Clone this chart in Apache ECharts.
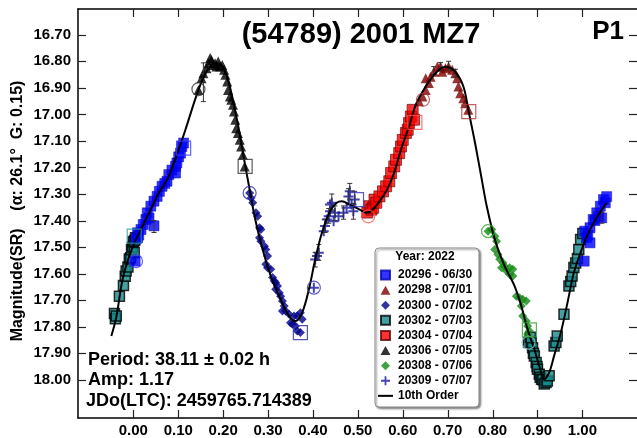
<!DOCTYPE html>
<html>
<head>
<meta charset="utf-8">
<script src="https://cdn.jsdelivr.net/npm/echarts@6/dist/echarts.min.js"></script>
<style>
html, body { margin: 0; padding: 0; background: #fff; }
#chart { width: 637px; height: 438px; }
</style>
</head>
<body>
<div id="chart"></div>
<script>
// Lightcurve of (54789) 2001 MZ7, phased to P = 38.11 h. Points are [phase, magnitude].
const xTicks = [0.0, 0.1, 0.2, 0.3, 0.4, 0.5, 0.6, 0.7, 0.8, 0.9, 1.0];
const yTicks = [16.7, 16.8, 16.9, 17.0, 17.1, 17.2, 17.3, 17.4, 17.5, 17.6, 17.7, 17.8, 17.9, 18.0];

const s20296 = [
  [0.004,17.553],[0.006,17.47],[0.0095,17.446],[0.0095,17.465],[0.012,17.455],[0.017,17.434],
  [0.022,17.415],[0.028,17.396],[0.031,17.371],[0.035,17.39],[0.039,17.346],[0.046,17.327],
  [0.046,17.42],[0.053,17.309],[0.058,17.29],[0.064,17.271],[0.070,17.26],[0.075,17.252],
  [0.079,17.227],[0.086,17.21],[0.094,17.196],[0.094,17.221],[0.097,17.183],[0.101,17.16],
  [0.105,17.146],[0.108,17.121],[0.112,17.108],
  [1.004,17.553],[1.005,17.44],[1.009,17.465],[1.012,17.455],[1.017,17.427],[1.017,17.484],
  [1.024,17.396],[1.028,17.40],[1.032,17.371],[1.036,17.385],[1.040,17.346],[1.043,17.39],
  [1.047,17.321],[1.051,17.333],[1.054,17.31]
];
const s20298 = [
  [0.636,16.951],[0.644,16.933],[0.651,16.908],[0.651,16.864],[0.658,16.882],[0.662,16.858],
  [0.669,16.839],[0.677,16.82],[0.684,16.82],[0.688,16.839],[0.695,16.826],[0.702,16.82],
  [0.710,16.832],[0.717,16.845],[0.721,16.864],[0.724,16.895],[0.728,16.92],[0.735,16.939],
  [0.739,16.958],[0.746,16.983]
];
const s20300 = [
  [0.259,17.296],[0.262,17.315],[0.266,17.333],[0.273,17.371],[0.277,17.384],[0.281,17.427],
  [0.284,17.434],[0.281,17.465],[0.284,17.478],[0.292,17.497],[0.295,17.509],[0.299,17.534],
  [0.295,17.565],[0.299,17.578],[0.306,17.584],[0.310,17.615],[0.314,17.628],[0.317,17.634],
  [0.321,17.647],[0.317,17.659],[0.325,17.672],[0.328,17.685],[0.332,17.703],[0.336,17.722],
  [0.332,17.741],[0.339,17.741],[0.347,17.753],[0.350,17.785],[0.354,17.791],[0.361,17.797],
  [0.365,17.816],[0.372,17.822],[0.358,17.76],[0.365,17.76],[0.372,17.747],[0.376,17.772]
];
const s20302 = [
  [-0.042,17.75],[-0.040,17.77],[-0.038,17.76],[-0.031,17.685],[-0.022,17.645],[-0.018,17.61],
  [-0.016,17.59],[-0.012,17.575],[-0.009,17.545],[-0.006,17.54],[-0.004,17.51],[-0.002,17.50],
  [0.000,17.48],[0.003,17.475],[0.005,17.465],[0.002,17.52],
  [0.880,17.86],[0.884,17.84],[0.886,17.86],[0.889,17.879],[0.891,17.90],[0.893,17.91],
  [0.897,17.935],[0.899,17.95],[0.900,17.96],[0.904,17.979],[0.906,17.99],[0.909,17.998],
  [0.912,18.0],[0.915,18.016],[0.919,18.01],[0.922,18.005],[0.926,17.985],[0.937,17.873],
  [0.941,17.86],[0.944,17.835],[0.959,17.753],[0.970,17.647],[0.974,17.63],[0.977,17.609],
  [0.981,17.577],[0.985,17.56],[0.989,17.543],[0.992,17.509],[0.996,17.471],[1.001,17.449]
];
const s20304 = [
  [0.521,17.37],[0.526,17.346],[0.530,17.359],[0.534,17.352],[0.537,17.321],[0.541,17.333],
  [0.548,17.309],[0.556,17.29],[0.563,17.271],[0.570,17.252],[0.574,17.221],[0.581,17.196],
  [0.585,17.171],[0.592,17.146],[0.596,17.121],[0.600,17.096],[0.607,17.07],[0.611,17.058],
  [0.614,17.033],[0.618,17.008],[0.622,16.983],[0.625,17.02]
];
const s20306 = [
  [0.145,16.908],[0.152,16.864],[0.156,16.845],[0.163,16.826],[0.167,16.807],[0.171,16.788],
  [0.174,16.795],[0.178,16.814],[0.182,16.807],[0.185,16.82],[0.189,16.801],[0.193,16.82],
  [0.198,16.814],[0.202,16.832],[0.205,16.851],[0.209,16.876],[0.211,16.908],[0.215,16.933],
  [0.218,16.945],[0.222,16.964],[0.224,16.989],[0.227,17.02],[0.229,17.052],[0.233,17.07],
  [0.237,17.096],[0.240,17.121],[0.244,17.152],[0.248,17.196]
];
const s20308 = [
  [0.790,17.44],[0.798,17.434],[0.805,17.459],[0.809,17.478],[0.805,17.509],[0.812,17.528],
  [0.816,17.546],[0.823,17.559],[0.827,17.572],[0.820,17.578],[0.831,17.59],[0.838,17.578],
  [0.845,17.584],[0.838,17.603],[0.845,17.609],[0.853,17.685],[0.860,17.691],[0.867,17.697],
  [0.875,17.703],[0.864,17.722],[0.867,17.76],[0.875,17.779],[0.878,17.797],[0.882,17.816],
  [0.878,17.829]
];
const s20309 = [
  [0.402,17.653],[0.405,17.547],[0.409,17.534],[0.413,17.521],[0.424,17.44],[0.427,17.421],
  [0.431,17.396],[0.435,17.384],[0.438,17.365],[0.442,17.333],[0.438,17.34],[0.449,17.371],
  [0.457,17.384],[0.446,17.403],[0.479,17.309],[0.482,17.29],[0.486,17.34],[0.490,17.365],
  [0.493,17.321],[0.475,17.352],[0.468,17.371]
];

// 10th order Fourier fit
const fit10 = [
  [-0.049,17.835],[-0.038,17.765],[-0.024,17.622],[-0.009,17.534],[0.006,17.471],[0.028,17.396],
  [0.057,17.295],[0.077,17.240],[0.101,17.133],[0.116,17.058],[0.145,16.908],[0.163,16.839],
  [0.182,16.806],[0.196,16.814],[0.211,16.870],[0.233,17.039],[0.248,17.182],[0.259,17.283],
  [0.270,17.384],[0.284,17.484],[0.306,17.609],[0.328,17.697],[0.347,17.760],[0.361,17.779],
  [0.376,17.747],[0.391,17.659],[0.405,17.547],[0.420,17.446],[0.438,17.365],[0.453,17.333],
  [0.464,17.327],[0.482,17.340],[0.504,17.359],[0.519,17.371],[0.556,17.309],[0.578,17.233],
  [0.596,17.133],[0.614,17.045],[0.629,16.964],[0.651,16.895],[0.673,16.845],[0.695,16.821],
  [0.717,16.840],[0.735,16.895],[0.746,16.983],[0.761,17.108],[0.776,17.246],[0.787,17.346],
  [0.805,17.471],[0.827,17.572],[0.849,17.647],[0.864,17.722],[0.878,17.810],[0.893,17.885],
  [0.904,17.948],[0.915,17.998],[0.926,17.973],[0.937,17.910],[0.952,17.822],[0.966,17.716],
  [0.981,17.597],[0.996,17.521],[1.010,17.459],[1.032,17.389],[1.054,17.333]
];

// first / last observation of each night, in the order of sessionNames
const sessionNames = ['20296','20306','20300','20309','20304','20298','20308','20302'];
const firstObs = [[0.006,17.553],[0.145,16.905],[0.259,17.296],[0.402,17.653],[0.523,17.384],[0.645,16.945],[0.790,17.44],[0.880,17.86]];
const lastObs  = [[0.112,17.127],[0.249,17.196],[0.372,17.822],[0.497,17.321],[0.627,17.03],[0.747,16.99],[0.882,17.812],[0.002,17.459]];

// error bars: [phase, bright limit, faint limit]
const errBars = [
  [0.156,16.806,16.952],[0.046,17.40,17.445],[1.043,17.37,17.41],
  [0.405,17.52,17.575],[0.413,17.49,17.55],[0.427,17.395,17.445],[0.435,17.355,17.41],
  [0.442,17.30,17.36],[0.449,17.345,17.40],[0.468,17.345,17.395],[0.479,17.28,17.34],
  [0.482,17.26,17.32],[0.490,17.335,17.395],[0.493,17.29,17.35],
  [0.669,16.82,16.85],[0.684,16.805,16.835],[0.702,16.80,16.835],[0.717,16.83,16.86]
];

const FONT = '"Liberation Sans", Arial, Helvetica, sans-serif';
const sessionColors = ['#3b3bff','#333333','#2a2aa8','#3434b4','#ff5050','#b03a3a','#33a033','#7cc4c4'];
const lastColors    = ['#3b3bff','#333333','#2a2aa8','#3434b4','#ff5050','#b03a3a','#33a033','#2a9a9a'];

const ICON_SQUARE = 'path://M0,0H10V10H0Z';
const ICON_TRI = 'path://M5,0L10,9H0Z';
const ICON_DIAMOND = 'path://M5,0L10,5L5,10L0,5Z';
const ICON_PLUS = 'path://M4,0H6V4H10V6H6V10H4V6H0V4H4Z';
const ICON_LINE = 'path://M0,0H15V2H0Z';

const X_MIN = -0.1232, X_MAX = 1.1216, Y_MIN = 16.603, Y_MAX = 18.144;
const TICK_LEN = 8;
const TICK_COLOR = '#222';

function scatter(name, data, symbol, size, style) {
  return { name, type: 'scatter', data, symbol, symbolSize: size, itemStyle: style, z: 2, silent: true };
}

function axisX(position, withLabels) {
  return {
    type: 'value', min: X_MIN, max: X_MAX, position: position,
    axisLine: { show: true, onZero: false, lineStyle: { color: '#000', width: 1.5 } },
    axisTick: { show: false },
    axisLabel: withLabels
      ? { show: true, customValues: xTicks, formatter: v => v.toFixed(2), fontFamily: FONT, fontWeight: 'bold', fontSize: 15, color: '#000', margin: 5 }
      : { show: false },
    splitLine: { show: false }
  };
}

function axisY(position, withLabels) {
  return {
    type: 'value', inverse: true, min: Y_MIN, max: Y_MAX, position: position,
    axisLine: { show: position === 'left', onZero: false, lineStyle: { color: '#000', width: 1.5 } },
    axisTick: { show: false },
    axisLabel: withLabels
      ? { show: true, customValues: yTicks, formatter: v => v.toFixed(2), fontFamily: FONT, fontWeight: 'bold', fontSize: 15, color: '#000', margin: 7 }
      : { show: false },
    splitLine: { show: false }
  };
}

// Inward tick marks on all four sides of the frame, placed through the grid's scales.
function tickSeries(values, vertical) {
  return {
    name: vertical ? 'yTicks' : 'xTicks', type: 'custom', silent: true, z: 5,
    data: values.map(v => [v, v]),
    renderItem: function (params, api) {
      const v = api.value(0);
      const lo = api.coord([X_MIN, Y_MIN]);
      const hi = api.coord([X_MAX, Y_MAX]);
      const st = { stroke: TICK_COLOR, lineWidth: 1.2 };
      if (vertical) {
        const y = Math.round(api.coord([0, v])[1]) + 0.5;
        return { type: 'group', children: [
          { type: 'line', shape: { x1: lo[0], y1: y, x2: lo[0] + TICK_LEN, y2: y }, style: st },
          { type: 'line', shape: { x1: hi[0] - TICK_LEN, y1: y, x2: hi[0], y2: y }, style: st }
        ] };
      }
      const x = Math.round(api.coord([v, 17])[0]) + 0.5;
      return { type: 'group', children: [
        { type: 'line', shape: { x1: x, y1: lo[1], x2: x, y2: lo[1] + TICK_LEN }, style: st },
        { type: 'line', shape: { x1: x, y1: hi[1] - TICK_LEN, x2: x, y2: hi[1] }, style: st }
      ] };
    }
  };
}

const chart = echarts.init(document.getElementById('chart'), null, { renderer: 'canvas' });

const option = {
  animation: false,
  backgroundColor: '#fff',
  grid: { left: 78, top: 9, right: -7, bottom: 19, containLabel: false },
  xAxis: [axisX('bottom', true), axisX('top', false)],
  yAxis: [axisY('left', true), axisY('right', false)],
  legend: {
    orient: 'vertical', left: 378, top: 267.5, padding: 0, itemGap: 0,
    itemWidth: 15, itemHeight: 9, itemTextGap: 4, selectedMode: false, z: 6,
    textStyle: { fontFamily: FONT, fontWeight: 'bold', fontSize: 12, color: '#000', lineHeight: 15.1 },
    data: [
      { name: '20296 - 06/30', icon: ICON_SQUARE },
      { name: '20298 - 07/01', icon: ICON_TRI },
      { name: '20300 - 07/02', icon: ICON_DIAMOND },
      { name: '20302 - 07/03', icon: ICON_SQUARE },
      { name: '20304 - 07/04', icon: ICON_SQUARE },
      { name: '20306 - 07/05', icon: ICON_TRI },
      { name: '20308 - 07/06', icon: ICON_DIAMOND },
      { name: '20309 - 07/07', icon: ICON_PLUS },
      { name: '10th Order', icon: ICON_LINE }
    ]
  },
  graphic: [
    { type: 'text', x: 361, y: 35, z: 10, style: { text: '(54789) 2001 MZ7', font: 'bold 29px ' + FONT, fill: '#000', textAlign: 'center', textVerticalAlign: 'middle' } },
    { type: 'text', x: 624, y: 32, z: 10, style: { text: 'P1', font: 'bold 26px ' + FONT, fill: '#000', textAlign: 'right', textVerticalAlign: 'middle' } },
    { type: 'text', x: 18, y: 211, rotation: Math.PI / 2, z: 10, style: { text: 'Magnitude(SR)    (α: 26.1°  G: 0.15)', font: 'bold 16px ' + FONT, fill: '#000', textAlign: 'center', textVerticalAlign: 'middle' } },
    { type: 'text', x: 88, y: 360, z: 10, style: { text: 'Period: 38.11 ± 0.02 h', font: 'bold 18px ' + FONT, fill: '#000', textAlign: 'left', textVerticalAlign: 'middle' } },
    { type: 'text', x: 88, y: 380, z: 10, style: { text: 'Amp: 1.17', font: 'bold 18px ' + FONT, fill: '#000', textAlign: 'left', textVerticalAlign: 'middle' } },
    { type: 'text', x: 86, y: 401, z: 10, style: { text: 'JDo(LTC): 2459765.714389', font: 'bold 18px ' + FONT, fill: '#000', textAlign: 'left', textVerticalAlign: 'middle' } },
    { type: 'rect', z: 5, shape: { x: 375, y: 248, width: 104, height: 159, r: 4 },
      style: { fill: '#fff', stroke: '#8a8a8a', lineWidth: 1, shadowBlur: 2, shadowOffsetX: 1.5, shadowOffsetY: 1.5, shadowColor: 'rgba(0,0,0,0.45)' } },
    { type: 'text', x: 425, y: 257, z: 7, style: { text: 'Year: 2022', font: 'bold 12px ' + FONT, fill: '#000', textAlign: 'center', textVerticalAlign: 'middle' } }
  ],
  series: [
    tickSeries(xTicks, false),
    tickSeries(yTicks, true),
    scatter('20302 - 07/03', s20302, 'rect', 10, { color: '#178a8a', borderColor: '#000', borderWidth: 1.5 }),
    scatter('20296 - 06/30', s20296, 'rect', 10, { color: '#0000ff', borderColor: '#0000b0', borderWidth: 0.6 }),
    scatter('20306 - 07/05', s20306, 'triangle', 10, { color: '#000' }),
    scatter('20300 - 07/02', s20300, 'diamond', 9, { color: '#00008b' }),
    scatter('20309 - 07/07', s20309, ICON_PLUS, 10, { color: '#1414a0' }),
    scatter('20304 - 07/04', s20304, 'rect', 11, { color: '#ff0000', borderColor: '#5a0000', borderWidth: 0.8 }),
    scatter('20298 - 07/01', s20298, 'triangle', 10, { color: '#800000' }),
    scatter('20308 - 07/06', s20308, 'diamond', 9, { color: '#138a13' }),
    {
      name: 'errors', type: 'custom', silent: true, z: 3,
      data: errBars,
      renderItem: function (params, api) {
        const x = api.value(0);
        const a = api.coord([x, api.value(1)]);
        const b = api.coord([x, api.value(2)]);
        const c = '#333';
        return {
          type: 'group',
          children: [
            { type: 'line', shape: { x1: a[0], y1: a[1], x2: b[0], y2: b[1] }, style: { stroke: c, lineWidth: 1 } },
            { type: 'line', shape: { x1: a[0] - 2.5, y1: a[1], x2: a[0] + 2.5, y2: a[1] }, style: { stroke: c, lineWidth: 1 } },
            { type: 'line', shape: { x1: b[0] - 2.5, y1: b[1], x2: b[0] + 2.5, y2: b[1] }, style: { stroke: c, lineWidth: 1 } }
          ]
        };
      }
    },
    {
      name: 'first', type: 'scatter', symbol: 'circle', symbolSize: 13, z: 4, silent: true,
      data: firstObs.map((p, i) => ({ value: p, itemStyle: { color: 'rgba(0,0,0,0)', borderColor: sessionColors[i], borderWidth: 1.2 } }))
    },
    {
      name: 'last', type: 'scatter', symbol: 'rect', symbolSize: 14, z: 4, silent: true,
      data: lastObs.map((p, i) => ({ value: p, itemStyle: { color: 'rgba(0,0,0,0)', borderColor: lastColors[i], borderWidth: 1.2 } }))
    },
    {
      name: '10th Order', type: 'line', data: fit10, smooth: 0.35, showSymbol: false, z: 3, silent: true,
      itemStyle: { color: '#000' }, lineStyle: { color: '#000', width: 2 }
    }
  ]
};

chart.setOption(option);
</script>
</body>
</html>
